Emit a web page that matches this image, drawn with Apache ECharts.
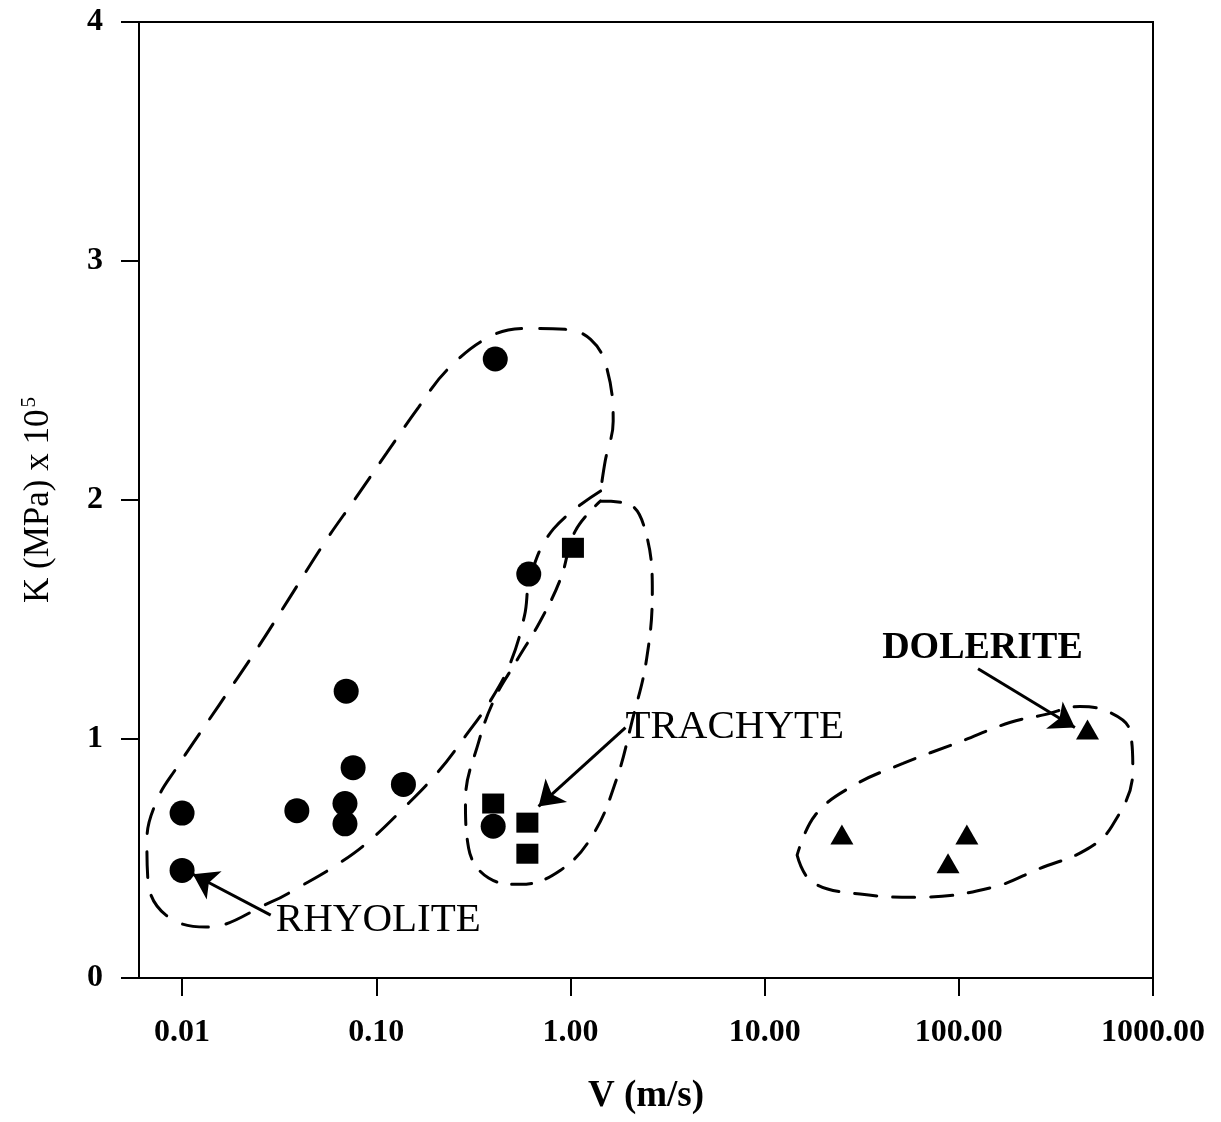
<!DOCTYPE html>
<html>
<head>
<meta charset="utf-8">
<script src="https://cdn.jsdelivr.net/npm/echarts@6/dist/echarts.min.js"></script>
<style>
html,body{margin:0;padding:0;background:#fff;}
#chart{width:1221px;height:1122px;}
</style>
</head>
<body>
<div id="chart"></div>
<script>
// ---- data (V in m/s, K in MPa x 10^5) ----
var rhyolite = [[0.01,0.69],[0.01,0.45],[0.039,0.70],[0.07,1.20],[0.076,0.88],[0.138,0.81],[0.069,0.73],[0.069,0.645],[0.40,0.635],[0.41,2.59],[0.61,1.69]];
var trachyte = [[1.03,1.80],[0.40,0.73],[0.60,0.65],[0.60,0.52]];
var dolerite = [[25,0.60],[110,0.60],[88,0.48],[460,1.04]];

var xTicks = [0.01, 0.1, 1, 10, 100, 1000];
var yTicks = [0, 1, 2, 3, 4];

// hand-drawn group outlines (annotation), in data units
var rhyoliteOutline = [[1.43,2.038],[0.818,1.879],[0.623,1.683],[0.580,1.516],[0.491,1.319],[0.388,1.161],[0.292,1.019],[0.207,0.860],[0.138,0.710],[0.0903,0.568],[0.0633,0.476],[0.0408,0.384],[0.0286,0.317],[0.01325,0.213],[0.00826,0.263],[0.00667,0.409],[0.00659,0.576],[0.00742,0.743],[0.0094,0.881],[0.01545,1.140],[0.0240,1.370],[0.0363,1.599],[0.0549,1.829],[0.0783,2.008],[0.113,2.196],[0.165,2.388],[0.236,2.551],[0.397,2.689],[0.623,2.718],[0.942,2.714],[1.27,2.672],[1.53,2.559],[1.66,2.330],[1.51,2.163],[1.43,2.038]];
var trachyteOutline = [[1.43,1.996],[1.99,1.983],[2.43,1.871],[2.64,1.620],[2.46,1.328],[2.08,1.077],[1.72,0.827],[1.30,0.597],[0.889,0.451],[0.553,0.392],[0.379,0.418],[0.299,0.543],[0.288,0.743],[0.336,0.985],[0.407,1.169],[0.521,1.319],[0.701,1.495],[0.889,1.670],[1.06,1.871],[1.43,1.996]];
var doleriteOutline = [[14.7,0.514],[17.6,0.401],[31.0,0.351],[63.1,0.338],[150,0.380],[262,0.459],[446,0.534],[614,0.635],[787,0.868],[760,1.035],[600,1.111],[420,1.136],[277,1.102],[183,1.069],[99,0.985],[51.6,0.898],[28.2,0.802],[18.2,0.681],[14.7,0.514]];

var labelNames = ['RHYOLITE', 'TRACHYTE', 'DOLERITE'];
var labelAnchors = [[0.0304,0.242],[1.92,1.048],[40.3,1.378]];
var arrows = [
  [[0.0286,0.263],[0.01137,0.434]],
  [[1.92,1.048],[0.685,0.718]],
  [[125.6,1.294],[396,1.048]]
];

var FONT = '"Liberation Serif", "DejaVu Serif", serif';

function outlineSeries(data, dash) {
  return {
    type: 'line', data: data, smooth: 0.4, showSymbol: false, symbol: 'none',
    silent: true, clip: false, z: 1,
    lineStyle: { color: '#000', width: 3, type: dash, cap: 'round', opacity: 1 }
  };
}

function pointSeries(name, data, symbol, size) {
  return { name: name, type: 'scatter', data: data, symbol: symbol, symbolSize: size, z: 3,
    itemStyle: { color: '#000', opacity: 1 }, emphasis: { disabled: true } };
}

var chart = echarts.init(document.getElementById('chart'), null, { renderer: 'canvas' });
chart.setOption({
  animation: false,
  backgroundColor: '#fff',
  grid: { left: 139, right: 68, top: 22, bottom: 144, show: true, borderColor: '#000', borderWidth: 2, backgroundColor: 'transparent' },
  xAxis: {
    type: 'log', logBase: 10, min: 0.006, max: 1000,
    name: 'V (m/s)', nameLocation: 'middle', nameGap: 100,
    nameTextStyle: { fontFamily: FONT, fontSize: 37, fontWeight: 'bold', color: '#000' },
    axisLine: { show: true, lineStyle: { color: '#000', width: 2 } },
    axisTick: { show: true, inside: false, length: 18, lineStyle: { color: '#000', width: 2 }, customValues: xTicks },
    axisLabel: { margin: 39, fontFamily: FONT, fontSize: 32, fontWeight: 'bold', color: '#000', customValues: xTicks,
      formatter: function (v) { return Number(v).toFixed(2); } },
    splitLine: { show: false }, minorTick: { show: false }
  },
  yAxis: {
    type: 'value', min: 0, max: 4, interval: 1,
    name: '{m|K (MPa) x 10}{s|5}', nameLocation: 'middle', nameGap: 80, nameRotate: 90,
    nameTextStyle: { fontFamily: FONT, fontSize: 35, color: '#000',
      rich: { m: { fontFamily: FONT, fontSize: 35, color: '#000', lineHeight: 40 },
              s: { fontFamily: FONT, fontSize: 21, color: '#000', verticalAlign: 'top', lineHeight: 40, padding: [0, 0, 14, 2] } } },
    axisLine: { show: true, lineStyle: { color: '#000', width: 2 } },
    axisTick: { show: true, inside: false, length: 18, lineStyle: { color: '#000', width: 2 } },
    axisLabel: { margin: 36, fontFamily: FONT, fontSize: 32, fontWeight: 'bold', color: '#000',
      customValues: yTicks },
    splitLine: { show: false }
  },
  series: [
    outlineSeries(rhyoliteOutline, [26, 18]),
    outlineSeries(trachyteOutline, [20, 15]),
    outlineSeries(doleriteOutline, [22, 16]),
    pointSeries('Rhyolite', rhyolite, 'circle', 25),
    pointSeries('Trachyte', trachyte, 'rect', [22, 20]),
    pointSeries('Dolerite', dolerite, 'triangle', [23, 20]),
    { name: 'labels', type: 'scatter', symbolSize: 0, silent: true, z: 4,
      itemStyle: { color: '#000', opacity: 1 }, emphasis: { disabled: true },
      data: labelNames.map(function (n, i) {
        return { name: n, value: labelAnchors[i],
          label: { fontWeight: i === 2 ? 'bold' : 'normal', fontSize: i === 2 ? 38 : 41 } };
      }),
      label: { show: true, position: 'right', distance: 0, formatter: '{b}', fontFamily: FONT, color: '#000', opacity: 1 },
      markLine: {
        silent: true, symbol: ['none', 'arrow'], symbolSize: 24, precision: 6,
        label: { show: false },
        itemStyle: { color: '#000', opacity: 1 },
        lineStyle: { color: '#000', width: 3, type: 'solid', opacity: 1 },
        emphasis: { disabled: true },
        data: arrows.map(function (a) { return [{ coord: a[0] }, { coord: a[1] }]; })
      }
    }
  ]
});
</script>
</body>
</html>
